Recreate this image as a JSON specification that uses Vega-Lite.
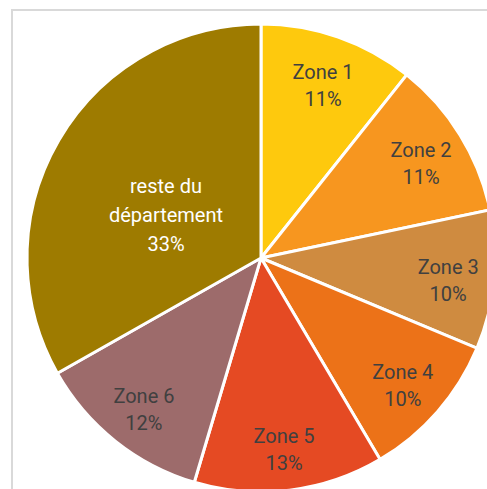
{
  "$schema": "https://vega.github.io/schema/vega-lite/v6.json",
  "width": 498,
  "height": 496,
  "autosize": {"type": "none"},
  "padding": {"left": 12, "top": 10, "right": 0, "bottom": 0},
  "background": "white",
  "view": {"stroke": "#d9d9d9", "strokeWidth": 2, "fill": "white"},
  "data": {
    "values": [
      {"ordre": 1, "zone": "Zone 1", "valeur": 10.7, "etiquette": "Zone 1\n11%"},
      {"ordre": 2, "zone": "Zone 2", "valeur": 11.0, "etiquette": "Zone 2\n11%"},
      {"ordre": 3, "zone": "Zone 3", "valeur": 9.6, "etiquette": "Zone 3\n10%"},
      {"ordre": 4, "zone": "Zone 4", "valeur": 10.2, "etiquette": "Zone 4\n10%"},
      {"ordre": 5, "zone": "Zone 5", "valeur": 13.1, "etiquette": "Zone 5\n13%"},
      {"ordre": 6, "zone": "Zone 6", "valeur": 12.2, "etiquette": "Zone 6\n12%"},
      {"ordre": 7, "zone": "reste du département", "valeur": 33.2, "etiquette": "reste du\ndépartement\n33%"}
    ]
  },
  "encoding": {
    "theta": {"field": "valeur", "type": "quantitative", "stack": true},
    "order": {"field": "ordre", "type": "quantitative", "sort": "ascending"}
  },
  "layer": [
    {
      "mark": {"type": "arc", "outerRadius": 234, "stroke": "white", "strokeWidth": 3},
      "encoding": {
        "color": {
          "field": "zone",
          "type": "nominal",
          "legend": null,
          "scale": {
            "domain": ["Zone 1", "Zone 2", "Zone 3", "Zone 4", "Zone 5", "Zone 6", "reste du département"],
            "range": ["#fec90d", "#f7961f", "#cf8b40", "#ec7218", "#e54a23", "#9d6b6b", "#9e7b00"]
          }
        }
      }
    },
    {
      "mark": {"type": "text", "radius": 188, "dy": -8, "font": "Roboto", "fontSize": 20, "lineBreak": "\n", "lineHeight": 27, "align": "center", "baseline": "middle", "fill": "#404040"},
      "encoding": {
        "text": {"condition": {"test": "datum.ordre == 7", "value": ""}, "field": "etiquette", "type": "nominal"}
      }
    },
    {
      "mark": {"type": "text", "radius": 110, "dy": -16, "font": "Roboto", "fontSize": 20, "lineBreak": "\n", "lineHeight": 29, "align": "center", "baseline": "middle", "fill": "white"},
      "encoding": {
        "text": {"condition": {"test": "datum.ordre != 7", "value": ""}, "field": "etiquette", "type": "nominal"}
      }
    }
  ]
}
